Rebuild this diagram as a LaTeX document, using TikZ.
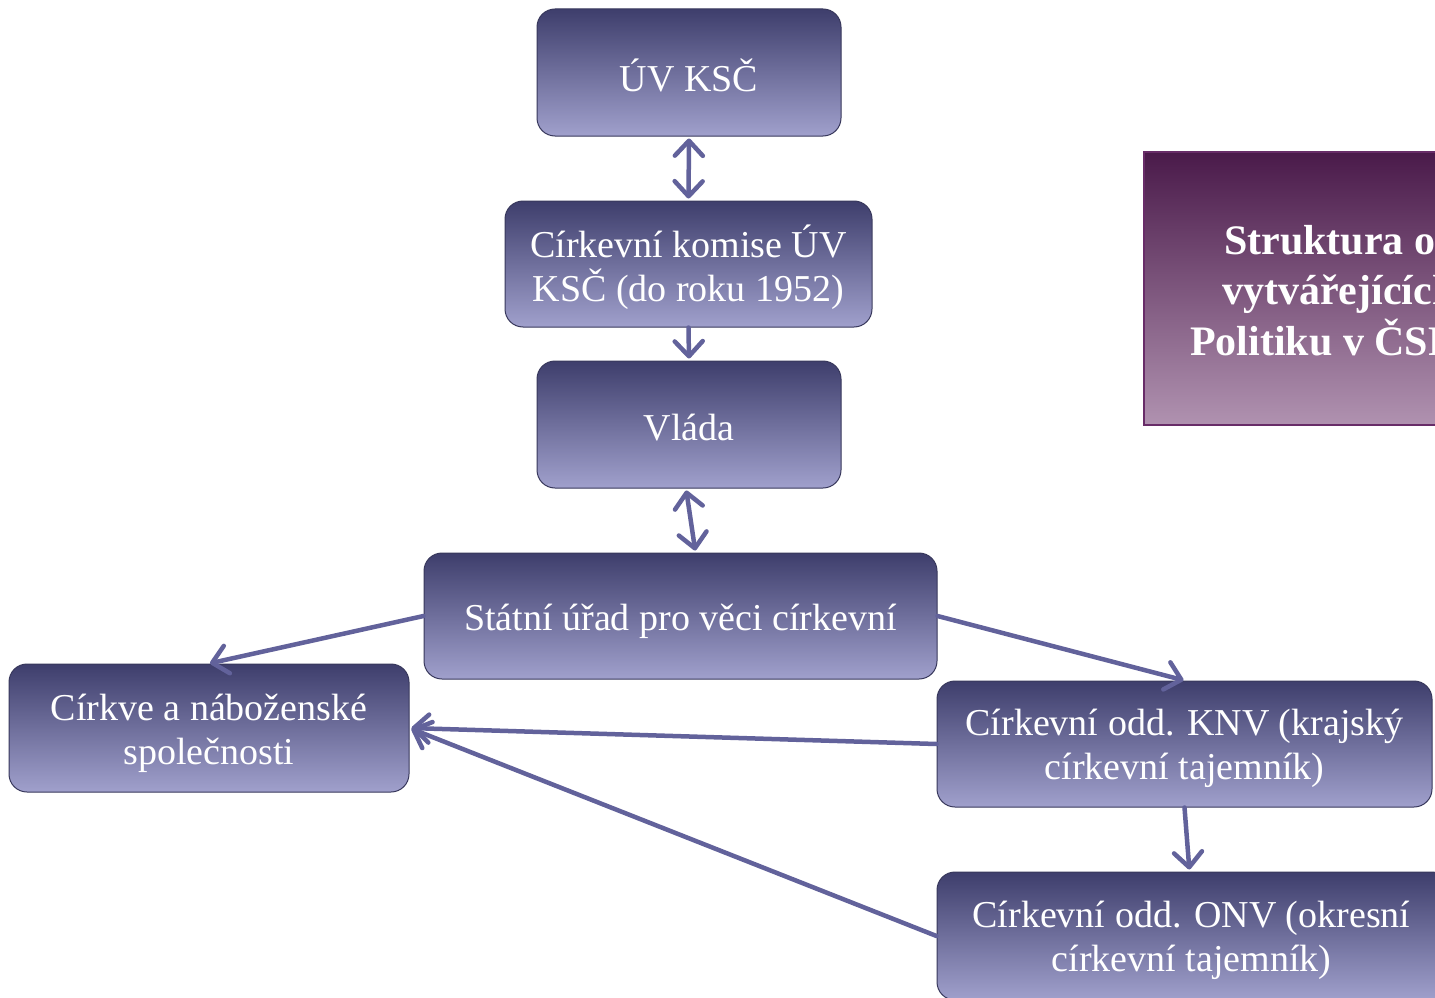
\documentclass[tikz,border=0pt]{standalone}
\usepackage{fontspec}
\setmainfont{Liberation Serif}
\usetikzlibrary{arrows.meta}
\definecolor{boxtop}{RGB}{62,62,108}
\definecolor{boxbot}{RGB}{160,160,204}
\definecolor{boxedge}{RGB}{56,56,92}
\definecolor{arr}{RGB}{98,98,155}
\definecolor{ttop}{RGB}{74,26,74}
\definecolor{tbot}{RGB}{176,146,176}
\definecolor{tborder}{RGB}{104,44,104}
\pgfdeclareverticalshading{boxshade}{100bp}{color(0bp)=(boxbot); color(25bp)=(boxbot); color(75bp)=(boxtop); color(100bp)=(boxtop)}
\pgfdeclareverticalshading{titleshade}{100bp}{color(0bp)=(tbot); color(25bp)=(tbot); color(75bp)=(ttop); color(100bp)=(ttop)}
\tikzset{
  orgbox/.style={rounded corners=18pt, shade, shading=boxshade, draw=boxedge, line width=1pt, inner sep=0pt},
  boxtext/.style={text=white, align=center, font=\fontsize{38}{44}\selectfont, inner sep=0pt},
  conn/.style={draw=arr, line width=4.5pt, line cap=round,
    -{Straight Barb[length=15pt,width=28pt,round]}},
  biconn/.style={draw=arr, line width=4.5pt, line cap=round,
    {Straight Barb[length=15pt,width=28pt,round]}-{Straight Barb[length=15pt,width=28pt,round]}},
  titletext/.style={anchor=base west, inner sep=0pt, text=white,
    font=\fontsize{42}{50}\selectfont\bfseries}
}
\begin{document}
\begin{tikzpicture}[x=1pt,y=-1pt]
\clip (0,0) rectangle (1435,998);
\fill[white] (0,0) rectangle (1435,998);

% title box (cut by the right edge, as in the reference)
\path[draw=tborder, line width=2.5pt, shade, shading=titleshade] (1144,152) rectangle (1530,425);
\node[titletext] (t1) at (1224,254) {Struktura orgánů};
\node[titletext] (t2) at (1222,304) {vytvářejících církevní};
\node[titletext] (t3) at (1190,355) {Politiku v ČSR};

% boxes
\node[orgbox, minimum width=304pt, minimum height=127pt] (uv) at (689,72.5) {};
\node[orgbox, minimum width=367pt, minimum height=126pt] (kom) at (688.5,264) {};
\node[orgbox, minimum width=304pt, minimum height=127pt] (vlada) at (689,424.5) {};
\node[orgbox, minimum width=513pt, minimum height=126pt] (sur) at (680.5,616) {};
\node[orgbox, minimum width=400pt, minimum height=128pt] (cirkve) at (209,728) {};
\node[orgbox, minimum width=495pt, minimum height=126pt] (knv) at (1184.5,744) {};
\node[orgbox, minimum width=513pt, minimum height=128pt] (onv) at (1193.5,936) {};

% box texts
\node[boxtext] (uvT) at ([yshift=-3pt]uv.center) {ÚV KSČ};
\node[boxtext] (komT) at ([yshift=-3pt]kom.center) {Církevní komise ÚV\\KSČ (do roku 1952)};
\node[boxtext] (vladaT) at ([yshift=-3pt]vlada.center) {Vláda};
\node[boxtext] (surT) at ([yshift=-5pt]sur.center) {Státní úřad pro věci církevní};
\node[boxtext] (cirkveT) at ([yshift=-5pt]cirkve.center) {Církve a náboženské\\společnosti};
\node[boxtext] (knvT) at ([yshift=-4pt]knv.center) {Církevní odd. KNV (krajský\\církevní tajemník)};
\node[boxtext] (onvT) at ([xshift=-2pt,yshift=-4pt]onv.center) {Církevní odd. ONV (okresní\\církevní tajemník)};

% connectors
\draw[biconn, shorten <=2pt, shorten >=2pt] (uv.south) -- (kom.north);
\draw[conn, shorten >=2pt] (kom.south) -- (vlada.north);
\draw[biconn, shorten <=2pt, shorten >=2pt] ([xshift=-3pt]vlada.south) -- ([xshift=15pt]sur.north);
\draw[conn, shorten >=1pt] (sur.west) -- (cirkve.north);
\draw[conn, shorten >=1pt] (sur.east) -- (knv.north);
\draw[conn, shorten >=2pt] (knv.west) -- (cirkve.east);
\draw[conn, shorten >=2pt] (onv.west) -- (cirkve.east);
\draw[conn, shorten >=2pt] (knv.south) -- ([xshift=-4pt]onv.north);
\end{tikzpicture}
\end{document}
